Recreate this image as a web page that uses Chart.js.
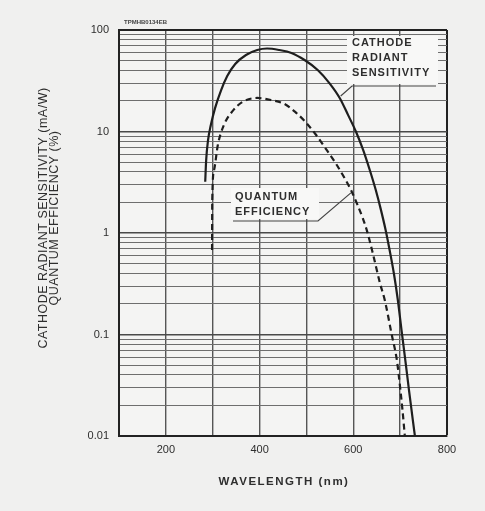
<!DOCTYPE html>
<html>
<head>
<meta charset="utf-8">
<script src="https://cdn.jsdelivr.net/npm/chart.js@4/dist/chart.umd.min.js"></script>
<style>
  html, body { margin: 0; padding: 0; background: #f0f0ef; }
  canvas { display: block; }
</style>
</head>
<body>
<canvas id="spectral" width="485" height="511"></canvas>
<script>
// photocathode spectral response: radiant sensitivity (mA/W) and quantum efficiency (%)
const sensWavelength = [284, 286, 290, 296, 305, 318, 331, 348, 371, 395, 416, 442, 468, 496, 524, 549, 571, 589, 606, 621, 635, 648, 659, 669, 677.5, 687, 695, 703, 711, 719, 727, 731.5];
const sensValues     = [3.2, 5.2, 8.2, 11.6, 17.0, 25.6, 35.2, 46.3, 56.7, 63.5, 65.7, 63.5, 59.4, 50.6, 40.4, 30.0, 21.4, 14.5, 9.9, 6.6, 4.2, 2.65, 1.69, 1.07, 0.68, 0.39, 0.22, 0.11, 0.056, 0.028, 0.0144, 0.01];

const qeWavelength = [298.6, 299, 303, 311, 324, 341, 363, 395, 425, 453, 476, 498, 519, 540, 562, 581, 597, 609, 620, 630, 641, 657, 667, 682, 693, 699, 705, 710];
const qeValues     = [0.68, 2.1, 4.2, 7.4, 11.6, 15.6, 19.5, 21.4, 20.4, 18.7, 15.6, 12.4, 9.45, 6.9, 4.9, 3.5, 2.54, 1.89, 1.41, 1.02, 0.65, 0.32, 0.22, 0.10, 0.056, 0.033, 0.018, 0.01];

const xTickLabels = [200, 400, 600, 800];
const yDecades    = [0.01, 0.1, 1, 10, 100];
const yTickLabels = ['0.01', '0.1', '1', '10', '100'];

// graph paper rulings: 1..9 in each decade
const yGrid = [];
yDecades.slice(0, -1).forEach(d => {
  for (let m = 1; m <= 9; m++) yGrid.push(m === 1 ? d : Number((d * m).toPrecision(3)));
});
yGrid.push(100);

const FONT = '"Liberation Sans", Arial, Helvetica, sans-serif';
const INK = '#2e2e2e';

const toPoints = (xs, ys) => xs.map((x, i) => ({ x, y: ys[i] }));

const paper = {
  id: 'paper',
  beforeDraw(chart) {
    const { ctx, chartArea: a } = chart;
    ctx.save();
    ctx.fillStyle = '#f4f4f3';
    ctx.fillRect(a.left, a.top, a.right - a.left, a.bottom - a.top);
    ctx.restore();
  }
};

function put(ctx, text, x, y, align) {
  ctx.textAlign = align || 'left';
  ctx.fillText(text, x, y);
}

const notes = {
  id: 'notes',
  afterDatasetsDraw(chart) {
    const { ctx } = chart;
    const sens = chart.getDatasetMeta(0).data[16];
    const qe = chart.getDatasetMeta(1).data[16];

    ctx.save();
    ctx.fillStyle = '#f8f8f7';
    ctx.fillRect(347, 36, 91, 48);
    ctx.fillRect(231, 188, 88, 31);

    ctx.strokeStyle = '#444';
    ctx.lineWidth = 1.2;
    ctx.beginPath();
    ctx.moveTo(sens.x + 1, sens.y - 2);
    ctx.lineTo(352, 86);
    ctx.lineTo(436, 86);
    ctx.stroke();
    ctx.beginPath();
    ctx.moveTo(qe.x - 1, qe.y + 1);
    ctx.lineTo(318, 221);
    ctx.lineTo(233, 221);
    ctx.stroke();

    ctx.fillStyle = INK;
    ctx.font = 'bold 11px ' + FONT;
    ctx.letterSpacing = '1px';
    ctx.textBaseline = 'middle';
    ['CATHODE', 'RADIANT', 'SENSITIVITY'].forEach((t, i) => put(ctx, t, 352, 43 + i * 15));
    ['QUANTUM', 'EFFICIENCY'].forEach((t, i) => put(ctx, t, 235, 197 + i * 15));

    // axis titles
    ctx.font = 'bold 11.5px ' + FONT;
    ctx.letterSpacing = '1.5px';
    put(ctx, 'WAVELENGTH (nm)', 284, 482, 'center');
    ctx.letterSpacing = '0.5px';
    ctx.font = '12.5px ' + FONT;
    ctx.translate(44, 218);
    ctx.rotate(-Math.PI / 2);
    put(ctx, 'CATHODE RADIANT SENSITIVITY (mA/W)', 0, 0, 'center');
    put(ctx, 'QUANTUM EFFICIENCY (%)', 0, 11, 'center');
    ctx.restore();

    ctx.save();
    ctx.fillStyle = '#444';
    ctx.font = 'bold 6px ' + FONT;
    ctx.textBaseline = 'middle';
    ctx.fillText('TPMHB0134EB', 124, 22);
    ctx.restore();
  }
};

new Chart(document.getElementById('spectral'), {
  type: 'line',
  data: {
    datasets: [
      { label: 'CATHODE RADIANT SENSITIVITY', data: toPoints(sensWavelength, sensValues),
        borderColor: '#1e1e1e', borderWidth: 2.2, pointRadius: 0, cubicInterpolationMode: 'monotone', fill: false },
      { label: 'QUANTUM EFFICIENCY', data: toPoints(qeWavelength, qeValues),
        borderColor: '#1e1e1e', borderWidth: 2.2, borderDash: [6, 4], pointRadius: 0, cubicInterpolationMode: 'monotone', fill: false }
    ]
  },
  options: {
    responsive: false,
    animation: false,
    layout: { padding: { top: 30, right: 38, left: 0, bottom: 0 } },
    plugins: { legend: { display: false }, tooltip: { enabled: false } },
    scales: {
      x: {
        type: 'linear', min: 100, max: 800,
        afterFit: s => { s.height = 75; },
        ticks: {
          stepSize: 100, autoSkip: false, maxRotation: 0, padding: 7, color: INK,
          font: { family: FONT, size: 11 },
          callback: v => xTickLabels.includes(v) ? String(v) : ''
        },
        grid: {
          drawTicks: false,
          color: c => c.tick && c.tick.value === 800 ? '#222' : '#555',
          lineWidth: c => c.tick && c.tick.value === 800 ? 2 : 1.4
        },
        border: { color: '#222', width: 2 }
      },
      y: {
        type: 'logarithmic', min: 0.01, max: 100,
        afterFit: s => { s.width = 119; },
        afterBuildTicks: s => { s.ticks = yGrid.map(v => ({ value: v })); },
        ticks: {
          autoSkip: false, padding: 10, color: INK,
          font: { family: FONT, size: 11 },
          callback: v => { const i = yDecades.indexOf(v); return i >= 0 ? yTickLabels[i] : ''; }
        },
        grid: {
          drawTicks: false,
          color: c => {
            const v = c.tick && c.tick.value;
            if (v === 100) return '#222';
            return yDecades.includes(v) ? '#4a4a4a' : '#6e6e6e';
          },
          lineWidth: c => {
            const v = c.tick && c.tick.value;
            if (v === 100) return 2;
            return yDecades.includes(v) ? 1.4 : 1;
          }
        },
        border: { color: '#222', width: 2 }
      }
    }
  },
  plugins: [paper, notes]
});
</script>
</body>
</html>
